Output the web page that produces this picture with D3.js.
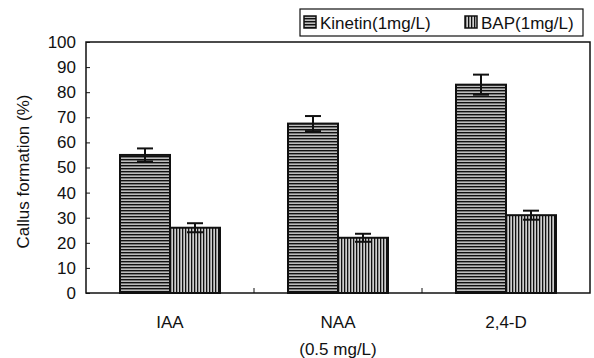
<!DOCTYPE html>
<html>
<head>
<meta charset="utf-8">
<script src="https://cdn.jsdelivr.net/npm/d3@7"></script>
<style>
  body { margin: 0; background: #fff; }
  text { font-family: "Liberation Sans", Arial, sans-serif; fill: #111; }
</style>
</head>
<body>
<svg id="chart" width="594" height="358"></svg>
<script>
// data
var categories = ["IAA", "NAA", "2,4-D"];
var seriesNames = ["Kinetin(1mg/L)", "BAP(1mg/L)"];
var kinetin = [55, 67.5, 83];
var kinetinErr = [2.6, 3.0, 4.0];
var bap = [26, 22, 31];
var bapErr = [1.8, 1.6, 1.8];
var yTicks = [0, 10, 20, 30, 40, 50, 60, 70, 80, 90, 100];

var svg = d3.select("#chart");

// set the dimensions of the plot box
var margin = { top: 42, right: 4, bottom: 65, left: 86 },
    width = 594 - margin.left - margin.right,
    height = 358 - margin.top - margin.bottom;

var defs = svg.append("defs");

// horizontal stripes for Kinetin
var ph = defs.append("pattern")
    .attr("id", "hstripe")
    .attr("patternUnits", "userSpaceOnUse")
    .attr("width", 6).attr("height", 3);
ph.append("rect").attr("width", 6).attr("height", 3).attr("fill", "#bdbdbd");
ph.append("rect").attr("width", 6).attr("height", 1.4).attr("fill", "#111");

// vertical stripes for BAP
var pv = defs.append("pattern")
    .attr("id", "vstripe")
    .attr("patternUnits", "userSpaceOnUse")
    .attr("width", 3).attr("height", 6);
pv.append("rect").attr("width", 3).attr("height", 6).attr("fill", "#cfcfcf");
pv.append("rect").attr("width", 1.3).attr("height", 6).attr("fill", "#111");

var g = svg.append("g")
    .attr("transform", "translate(" + margin.left + "," + margin.top + ")");

var x = d3.scaleBand()
    .domain(categories)
    .range([0, width]);

var sub = d3.scaleBand()
    .domain(seriesNames)
    .range([0, 100]);

var y = d3.scaleLinear()
    .domain([0, 100])
    .range([height, 0]);

// bars
var series = [
    { name: seriesNames[0], values: kinetin, err: kinetinErr, fill: "url(#hstripe)" },
    { name: seriesNames[1], values: bap, err: bapErr, fill: "url(#vstripe)" }
];

series.forEach(function (s) {
    categories.forEach(function (c, i) {
        var bx = x(c) + x.bandwidth() / 2 - 50 + sub(s.name);
        g.append("rect")
            .attr("x", bx)
            .attr("y", y(s.values[i]))
            .attr("width", sub.bandwidth())
            .attr("height", height - y(s.values[i]))
            .attr("fill", s.fill)
            .attr("stroke", "#111")
            .attr("stroke-width", 2);

        // error bar
        var cx = bx + sub.bandwidth() / 2;
        var hi = y(s.values[i] + s.err[i]), lo = y(s.values[i] - s.err[i]);
        g.append("line")
            .attr("x1", cx).attr("x2", cx)
            .attr("y1", hi).attr("y2", lo)
            .attr("stroke", "#111").attr("stroke-width", 2);
        [hi, lo].forEach(function (yy) {
            g.append("line")
                .attr("x1", cx - 8).attr("x2", cx + 8)
                .attr("y1", yy).attr("y2", yy)
                .attr("stroke", "#111").attr("stroke-width", 2);
        });
    });
});

// plot box
g.append("rect")
    .attr("width", width)
    .attr("height", height)
    .attr("fill", "none")
    .attr("stroke", "#111")
    .attr("stroke-width", 1.5);

// y axis
var yAxis = g.append("g")
    .call(d3.axisLeft(y).tickValues(yTicks).tickSize(-4).tickPadding(10).tickSizeOuter(0));
yAxis.select(".domain").remove();
yAxis.selectAll("text").style("font-size", "17px");
yAxis.selectAll("line").attr("stroke", "#111");

// small ticks at category boundaries
g.selectAll(".sep")
    .data(categories.slice(1))
    .enter()
    .append("line")
    .attr("x1", function (d) { return x(d); })
    .attr("x2", function (d) { return x(d); })
    .attr("y1", height)
    .attr("y2", height - 5)
    .attr("stroke", "#111");

// x labels
g.selectAll(".xlab")
    .data(categories)
    .enter()
    .append("text")
    .attr("x", function (d) { return x(d) + x.bandwidth() / 2; })
    .attr("y", height + 35)
    .attr("text-anchor", "middle")
    .style("font-size", "17px")
    .text(function (d) { return d; });

g.append("text")
    .attr("x", x(categories[1]) + x.bandwidth() / 2)
    .attr("y", height + 62)
    .attr("text-anchor", "middle")
    .style("font-size", "17px")
    .text("(0.5 mg/L)");

// y title
svg.append("text")
    .attr("transform", "translate(29," + (margin.top + height / 2 + 4) + ") rotate(-90)")
    .attr("text-anchor", "middle")
    .style("font-size", "17px")
    .text("Callus formation (%)");

// legend
var legend = svg.append("g");
legend.append("rect")
    .attr("x", 300).attr("y", 9)
    .attr("width", 283).attr("height", 27)
    .attr("fill", "#fff")
    .attr("stroke", "#111")
    .attr("stroke-width", 1.2);

function addKey(fill, label, lx) {
    legend.append("rect")
        .attr("x", lx).attr("y", 16)
        .attr("width", 12).attr("height", 12)
        .attr("fill", fill)
        .attr("stroke", "#111")
        .attr("stroke-width", 1.5);
    legend.append("text")
        .attr("x", lx + 16)
        .attr("y", 29)
        .style("font-size", "17px")
        .text(label);
}
addKey(series[0].fill, seriesNames[0], 304);
addKey(series[1].fill, seriesNames[1], 465);
</script>
</body>
</html>
